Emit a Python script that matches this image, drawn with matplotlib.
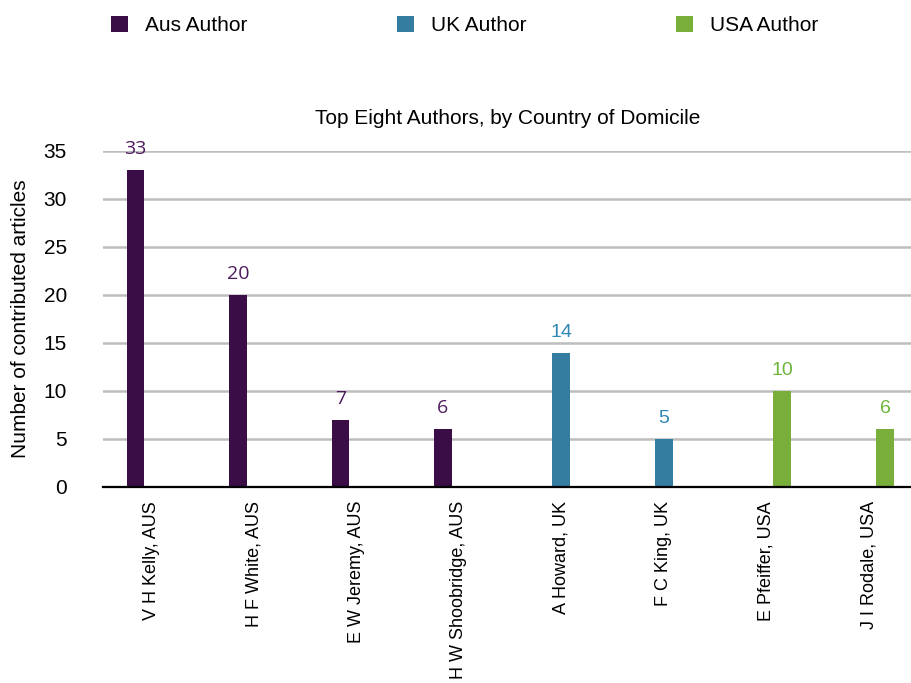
import numpy as np
import matplotlib
matplotlib.use('Agg')
import matplotlib.pyplot as plt
from matplotlib.patches import Patch

plt.rcParams['font.family'] = ['Liberation Sans', 'DejaVu Sans']

# chart data
authors = ['V H Kelly, AUS', 'H F White, AUS', 'E W Jeremy, AUS', 'H W Shoobridge, AUS',
           'A Howard, UK', 'F C King, UK', 'E Pfeiffer, USA', 'J I Rodale, USA']
aus_counts = [33, 20, 7, 6, 0, 0, 0, 0]
uk_counts = [0, 0, 0, 0, 14, 5, 0, 0]
usa_counts = [0, 0, 0, 0, 0, 0, 10, 6]
series_names = ['Aus Author', 'UK Author', 'USA Author']

bar_colors = ['#3a0d47', '#347ca0', '#79ae3a']
label_colors = ['#4e1a5e', '#2f87b4', '#6db53b']
label_fonts = [['Open Sans', 'DejaVu Sans'], ['Liberation Sans'], ['Liberation Sans']]

fig = plt.figure(figsize=(9.12, 6.83), dpi=100)
ax = fig.add_axes([103 / 912, 1 - 487 / 683, 1 - 103 / 912, (487 - 151) / 683])

x = np.arange(len(authors))
width = 0.175
offsets = [-0.156, 0.0, 0.156]

for i, counts in enumerate([aus_counts, uk_counts, usa_counts]):
    bars = ax.bar(x + offsets[i], counts, width, color=bar_colors[i],
                  label=series_names[i], zorder=3)
    for b, v in zip(bars, counts):
        if v == 0:
            continue
        ax.annotate(str(v), (b.get_x() + b.get_width() / 2, v),
                    xytext=(0, 11.5), textcoords='offset points',
                    ha='center', va='baseline', fontsize=14,
                    color=label_colors[i], family=label_fonts[i])

ax.set_ylim(0, 35)
ax.set_xlim(-0.473, 7.42)
ax.set_yticks(range(0, 36, 5))
ax.set_xticks(x)
ax.set_xticklabels(authors, rotation=90, fontsize=13)
ax.tick_params(axis='both', length=0)
ax.tick_params(axis='y', labelsize=15, pad=26)
ax.tick_params(axis='x', pad=10)

ax.yaxis.grid(True, color='#bdbdbd', linewidth=1.8, zorder=0)
ax.set_axisbelow(True)
for s in ['top', 'right', 'left']:
    ax.spines[s].set_visible(False)
ax.spines['bottom'].set_linewidth(1.6)
ax.spines['bottom'].set_color('black')
ax.spines['bottom'].set_zorder(4)

ax.set_ylabel('Number of contributed articles', fontsize=15)
ax.yaxis.set_label_coords(-0.09, 0.5)

fig.text(507.5 / 912, 1 - 118 / 683, 'Top Eight Authors, by Country of Domicile',
         ha='center', va='center', fontsize=15)

handles = [Patch(facecolor=c, edgecolor='none') for c in bar_colors]
fig.legend(handles, series_names, loc='upper left', ncol=3, frameon=False,
           bbox_to_anchor=(111 / 912, 1 - 16 / 683), borderpad=0, borderaxespad=0,
           fontsize=15, handlelength=0.82, handleheight=0.82, handletextpad=0.8,
           columnspacing=7.2)

fig.savefig('out.png', dpi=100)
